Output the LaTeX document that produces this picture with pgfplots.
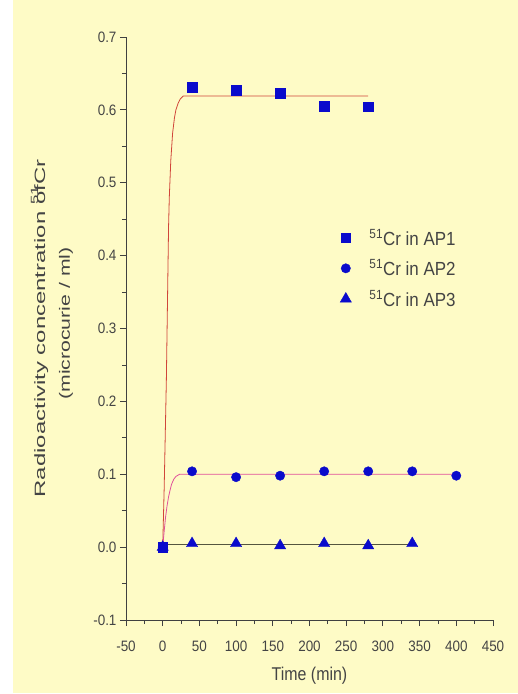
\documentclass[border=0pt]{standalone}
\usepackage{pgfplots}
\pgfplotsset{compat=1.18}
\usepackage{fontspec}
\setmainfont{Liberation Sans}
\definecolor{bgy}{HTML}{FEFBC6}
\definecolor{mblue}{HTML}{0A0ACC}
\definecolor{lred}{HTML}{D0453A}
\definecolor{lpink}{HTML}{E0509A}
\definecolor{ldark}{HTML}{55553F}
\definecolor{txt}{HTML}{444444}
\newcommand{\legtext}[1]{\hspace*{16bp}\fontsize{17}{19}\selectfont\scalebox{1}[1.12]{\textsuperscript{51}Cr in #1}}
\newcommand{\tl}[1]{\scalebox{1}[1.12]{#1}}
\begin{document}
\begin{tikzpicture}
\fill[white] (-126bp,-74bp) rectangle (392bp,620bp);
\fill[bgy] (-113bp,-73bp) rectangle (392bp,620bp);
\begin{axis}[
  scale only axis, width=367bp, height=583bp,
  xmin=-50, xmax=450, ymin=-0.1, ymax=0.7,
  axis x line*=bottom, axis y line*=left,
  axis line style={color=black!75, line width=0.8pt},
  xtick={-50,0,50,100,150,200,250,300,350,400,450},
  ytick={-0.1,0,0.1,0.2,0.3,0.4,0.5,0.6,0.7},
  yticklabels={\tl{-0.1},\tl{0.0},\tl{0.1},\tl{0.2},\tl{0.3},\tl{0.4},\tl{0.5},\tl{0.6},\tl{0.7}},
  xticklabels={\tl{-50},\tl{0},\tl{50},\tl{100},\tl{150},\tl{200},\tl{250},\tl{300},\tl{350},\tl{400},\tl{450}},
  minor x tick num=1, minor y tick num=1,
  tick align=outside, major tick length=6bp, minor tick length=4bp,
  tick style={color=black!75, line width=0.8pt},
  ticklabel style={font=\fontsize{13.5}{15}\selectfont, text=txt},
  xticklabel style={yshift=-11bp},
  xlabel={\scalebox{1}[1.16]{Time (min)}},
  xlabel style={font=\fontsize{16}{18}\selectfont, text=txt, yshift=-9bp},
  ylabel={\scalebox{1.6}[1]{Radioactivity concentration \rlap{\raisebox{0.2ex}{\textsuperscript{51}}}ofCr}\\\hspace*{10bp}\scalebox{1.42}[1]{(microcurie / ml)}},
  ylabel style={font=\fontsize{15}{25}\selectfont, text=txt, align=center, at={(axis description cs:-0.2016,0.5)}, anchor=center},
  legend style={at={(axis description cs:0.575,0.678)}, anchor=north west, draw=none, fill=none, row sep=9bp, text=txt},
  legend cell align=left,
  clip=false,
]
% fitted curves
\addplot[lred, line width=0.8pt, forget plot] coordinates {
 (0,0) (2,0.08) (4,0.18) (5,0.23) (6,0.30) (7,0.37) (8,0.44) (9,0.48) (11,0.53) (13.5,0.568) (16,0.589) (18,0.600) (21,0.609) (24,0.615) (28,0.619) (280,0.619)};
\addplot[lpink, line width=0.8pt, forget plot] coordinates {
 (0,0) (2,0.022) (4,0.042) (6,0.057) (8,0.069) (10,0.078) (12,0.086) (15,0.093) (18,0.097) (23,0.1) (400,0.1)};
\addplot[ldark, line width=1pt, forget plot] coordinates {
 (0,0.003) (342,0.003)};
% data
\addplot[only marks, mark=square*, mark size=4.7pt, mblue] coordinates {
 (0,0) (40,0.631) (100,0.627) (160,0.623) (220,0.605) (280,0.604)};
\addlegendentry{\legtext{AP1}}
\addplot[only marks, mark=*, mark size=4.7pt, mblue] coordinates {
 (0,0) (40,0.104) (100,0.096) (160,0.098) (220,0.104) (280,0.104) (340,0.104) (400,0.098)};
\addlegendentry{\legtext{AP2}}
\addplot[only marks, mark=triangle*, mark size=6.5pt, mblue] coordinates {
 (0,0) (40,0.005) (100,0.005) (160,0.002) (220,0.005) (280,0.002) (340,0.005)};
\addlegendentry{\legtext{AP3}}
\end{axis}
\pgfresetboundingbox
\path[use as bounding box] (-126bp,-74bp) rectangle (392bp,620bp);
\end{tikzpicture}
\end{document}
